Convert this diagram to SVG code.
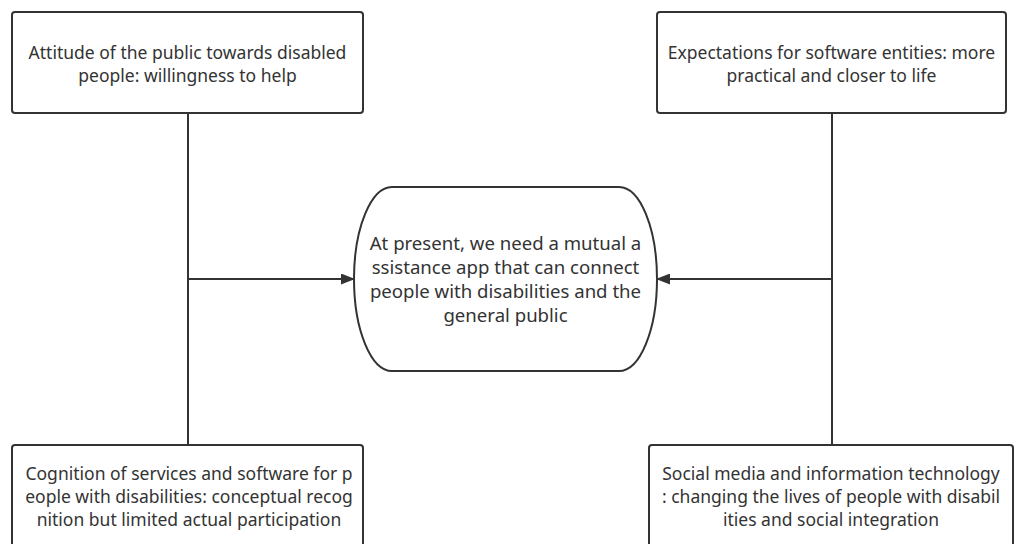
<svg xmlns="http://www.w3.org/2000/svg" width="1019" height="544" viewBox="0 0 1019 544">
  <style>
    .box { fill: #ffffff; stroke: #333333; stroke-width: 2; }
    .lbl { font-family: "Noto Sans", "Open Sans", "Liberation Sans", sans-serif; font-size: 17.5px; fill: #333333; text-anchor: middle; }
    .big { font-size: 18.6px; }
    .wire { fill: none; stroke: #333333; stroke-width: 2; }
  </style>
  <defs>
    <marker id="arrow" viewBox="0 0 14 11" refX="14" refY="5.5" markerWidth="14" markerHeight="11" markerUnits="userSpaceOnUse" orient="auto">
      <path d="M0,0 L14,5.5 L0,11 Z" fill="#333333"/>
    </marker>
  </defs>
  <rect width="1019" height="544" fill="#ffffff"/>

  <g id="connectors">
    <line class="wire" x1="188" y1="113" x2="188" y2="445"/>
    <line class="wire" x1="188" y1="279" x2="355" y2="279" marker-end="url(#arrow)"/>
    <line class="wire" x1="832" y1="113" x2="832" y2="445"/>
    <line class="wire" x1="832" y1="279" x2="656" y2="279" marker-end="url(#arrow)"/>
  </g>

  <g id="attitude">
    <rect class="box" x="12" y="12" width="351" height="101" rx="3"/>
    <text class="lbl" x="187.5" y="59">Attitude of the public towards disabled</text>
    <text class="lbl" x="187.5" y="82">people: willingness to help</text>
  </g>

  <g id="expectations">
    <rect class="box" x="657" y="12" width="349" height="101" rx="3"/>
    <text class="lbl" x="831.5" y="59">Expectations for software entities: more</text>
    <text class="lbl" x="831.5" y="82">practical and closer to life</text>
  </g>

  <g id="need">
    <rect class="box" x="354" y="187" width="303" height="184" rx="38" ry="92"/>
    <text class="lbl big" x="505.5" y="250">At present, we need a mutual a</text>
    <text class="lbl big" x="505.5" y="274">ssistance app that can connect</text>
    <text class="lbl big" x="505.5" y="298">people with disabilities and the</text>
    <text class="lbl big" x="505.5" y="322">general public</text>
  </g>

  <g id="cognition">
    <rect class="box" x="12" y="445" width="351" height="110" rx="3"/>
    <text class="lbl" x="189" y="480">Cognition of services and software for p</text>
    <text class="lbl" x="189" y="503">eople with disabilities: conceptual recog</text>
    <text class="lbl" x="189" y="526">nition but limited actual participation</text>
  </g>

  <g id="social-media">
    <rect class="box" x="649" y="445" width="364" height="110" rx="3"/>
    <text class="lbl" x="831" y="480">Social media and information technology</text>
    <text class="lbl" x="831" y="503">: changing the lives of people with disabil</text>
    <text class="lbl" x="831" y="526">ities and social integration</text>
  </g>
</svg>
